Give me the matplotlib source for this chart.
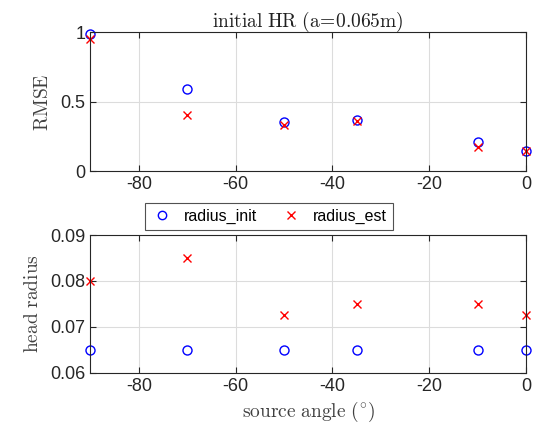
import matplotlib
matplotlib.use("Agg")
import matplotlib.pyplot as plt
from matplotlib.lines import Line2D

angles = [-90, -70, -50, -35, -10, 0]
rmse_init = [0.99, 0.593, 0.357, 0.366, 0.212, 0.148]
rmse_est = [0.95, 0.405, 0.33, 0.362, 0.172, 0.148]
radius_init = [0.065, 0.065, 0.065, 0.065, 0.065, 0.065]
radius_est = [0.08, 0.085, 0.0725, 0.075, 0.075, 0.0725]
xticks = [-80, -60, -40, -20, 0]

plt.rcParams['mathtext.fontset'] = 'cm'
plt.rcParams['font.family'] = 'Liberation Sans'
plt.rcParams['axes.unicode_minus'] = False

fig = plt.figure(figsize=(5.35, 4.32), dpi=100)
ax1 = fig.add_axes([0.169, 0.604, 0.814, 0.321])
ax2 = fig.add_axes([0.169, 0.137, 0.814, 0.319])

labcol = '#404040'
tickcol = '#262626'

for ax in (ax1, ax2):
    ax.set_xlim(-90, 0)
    ax.set_xticks(xticks)
    ax.grid(True, color='#dcdcdc', linewidth=0.8)
    ax.set_axisbelow(True)
    ax.tick_params(direction='in', top=True, right=True, labelsize=13,
                   colors=tickcol, length=4, width=0.8)
    for s in ax.spines.values():
        s.set_color('#262626')
        s.set_linewidth(0.8)

ax1.plot(angles, rmse_init, 'o', mfc='none', mec='blue', ms=6.5, mew=1.0, clip_on=False)
ax1.plot(angles, rmse_est, 'x', color='red', ms=6, mew=1.0, clip_on=False)
ax1.set_ylim(0, 1)
ax1.set_yticks([0, 0.5, 1])
ax1.set_yticklabels(['0', '0.5', '1'])
ax1.set_ylabel(r'$\mathrm{RMSE}$', fontsize=14, color=labcol, labelpad=6)
ax1.set_title(r'$\mathrm{initial\ HR\ (a\!=\!0.065m)}$', fontsize=14, color='#202020', pad=4)

ax2.plot(angles, radius_init, 'o', mfc='none', mec='blue', ms=6.5, mew=1.0, clip_on=False)
ax2.plot(angles, radius_est, 'x', color='red', ms=6, mew=1.0, clip_on=False)
ax2.set_ylim(0.06, 0.09)
ax2.set_yticks([0.06, 0.07, 0.08, 0.09])
ax2.set_yticklabels(['0.06', '0.07', '0.08', '0.09'])
ax2.set_ylabel(r'$\mathrm{head\ radius}$', fontsize=14, color=labcol, labelpad=6)
ax2.set_xlabel(r'$\mathrm{source\ angle\ (^{\circ})}$', fontsize=14, color=labcol, labelpad=4)

handles = [Line2D([], [], marker='o', ls='none', mfc='none', mec='blue', ms=6, mew=1.0),
           Line2D([], [], marker='x', ls='none', color='red', ms=6, mew=1.0)]
leg = fig.legend(handles, ['radius_init', 'radius_est'], ncol=2,
                 loc='center', bbox_to_anchor=(0.502, 0.499), fontsize=11.5,
                 frameon=True, fancybox=False, edgecolor='#262626',
                 handletextpad=0.6, columnspacing=1.4, borderpad=0.35, handlelength=1.5)
leg.get_frame().set_linewidth(0.8)

fig.savefig('out.png', dpi=100)
